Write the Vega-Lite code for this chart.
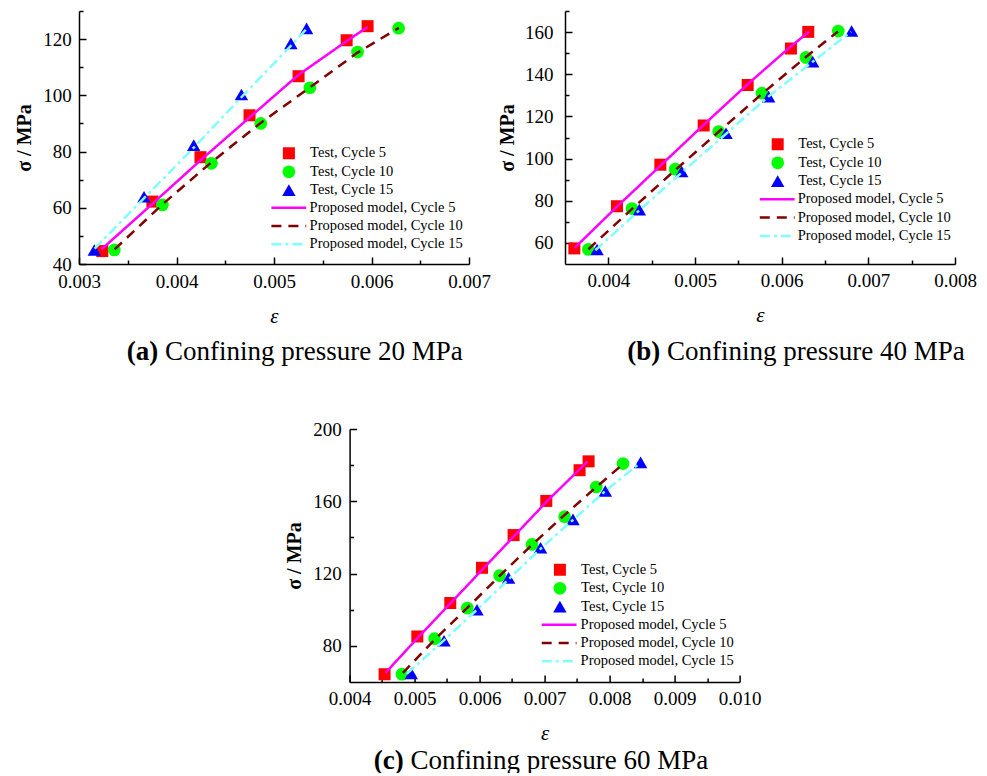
{
  "$schema": "https://vega.github.io/schema/vega-lite/v6.json",
  "padding": {"left": 14, "top": 10, "right": 0, "bottom": 0},
  "background": "white",
  "config": {
    "view": {"stroke": null},
    "font": "Liberation Serif",
    "axis": {"domainColor": "#000", "domainWidth": 1.5, "tickColor": "#000", "tickWidth": 1.5, "labelColor": "#000", "labelFont": "Liberation Serif", "labelFontSize": 19, "titleFont": "Liberation Serif", "titleColor": "#000", "grid": false, "labelFlush": false, "labelOverlap": false},
    "legend": {"labelFont": "Liberation Serif", "labelFontSize": 14.5, "labelColor": "#000", "padding": 0, "title": null, "rowPadding": 3.3}
  },
  "datasets": {
    "a_test": [
      {"strain": 0.003239, "stress": 44.6, "series": "Test, Cycle 5"},
      {"strain": 0.003753, "stress": 62.2, "series": "Test, Cycle 5"},
      {"strain": 0.004246, "stress": 78.0, "series": "Test, Cycle 5"},
      {"strain": 0.004749, "stress": 92.9, "series": "Test, Cycle 5"},
      {"strain": 0.005252, "stress": 106.8, "series": "Test, Cycle 5"},
      {"strain": 0.005745, "stress": 119.6, "series": "Test, Cycle 5"},
      {"strain": 0.005960, "stress": 124.6, "series": "Test, Cycle 5"},
      {"strain": 0.003362, "stress": 45.0, "series": "Test, Cycle 10"},
      {"strain": 0.003855, "stress": 61.0, "series": "Test, Cycle 10"},
      {"strain": 0.004358, "stress": 75.8, "series": "Test, Cycle 10"},
      {"strain": 0.004864, "stress": 90.0, "series": "Test, Cycle 10"},
      {"strain": 0.005368, "stress": 102.7, "series": "Test, Cycle 10"},
      {"strain": 0.005857, "stress": 115.4, "series": "Test, Cycle 10"},
      {"strain": 0.006278, "stress": 123.9, "series": "Test, Cycle 10"},
      {"strain": 0.003157, "stress": 45.0, "series": "Test, Cycle 15"},
      {"strain": 0.003667, "stress": 63.9, "series": "Test, Cycle 15"},
      {"strain": 0.004177, "stress": 82.3, "series": "Test, Cycle 15"},
      {"strain": 0.004666, "stress": 100.3, "series": "Test, Cycle 15"},
      {"strain": 0.005173, "stress": 118.5, "series": "Test, Cycle 15"},
      {"strain": 0.005334, "stress": 123.8, "series": "Test, Cycle 15"}
    ],
    "a_model": [
      {"strain": 0.00323, "stress": 45.2, "series": "Proposed model, Cycle 5"},
      {"strain": 0.003759, "stress": 61.6, "series": "Proposed model, Cycle 5"},
      {"strain": 0.004256, "stress": 77.2, "series": "Proposed model, Cycle 5"},
      {"strain": 0.004752, "stress": 92.2, "series": "Proposed model, Cycle 5"},
      {"strain": 0.005248, "stress": 107.2, "series": "Proposed model, Cycle 5"},
      {"strain": 0.005745, "stress": 119.3, "series": "Proposed model, Cycle 5"},
      {"strain": 0.00596, "stress": 124.3, "series": "Proposed model, Cycle 5"},
      {"strain": 0.003365, "stress": 45.2, "series": "Proposed model, Cycle 10"},
      {"strain": 0.003855, "stress": 61.2, "series": "Proposed model, Cycle 10"},
      {"strain": 0.004358, "stress": 76.2, "series": "Proposed model, Cycle 10"},
      {"strain": 0.004864, "stress": 90.2, "series": "Proposed model, Cycle 10"},
      {"strain": 0.005368, "stress": 102.8, "series": "Proposed model, Cycle 10"},
      {"strain": 0.005857, "stress": 115.2, "series": "Proposed model, Cycle 10"},
      {"strain": 0.00628, "stress": 124.0, "series": "Proposed model, Cycle 10"},
      {"strain": 0.00316, "stress": 45.5, "series": "Proposed model, Cycle 15"},
      {"strain": 0.00367, "stress": 63.5, "series": "Proposed model, Cycle 15"},
      {"strain": 0.00418, "stress": 81.5, "series": "Proposed model, Cycle 15"},
      {"strain": 0.00467, "stress": 99.5, "series": "Proposed model, Cycle 15"},
      {"strain": 0.00517, "stress": 117.5, "series": "Proposed model, Cycle 15"},
      {"strain": 0.00533, "stress": 123.5, "series": "Proposed model, Cycle 15"}
    ],
    "b_test": [
      {"strain": 0.003608, "stress": 57.4, "series": "Test, Cycle 5"},
      {"strain": 0.004100, "stress": 77.4, "series": "Test, Cycle 5"},
      {"strain": 0.004600, "stress": 97.1, "series": "Test, Cycle 5"},
      {"strain": 0.005100, "stress": 115.7, "series": "Test, Cycle 5"},
      {"strain": 0.005608, "stress": 134.9, "series": "Test, Cycle 5"},
      {"strain": 0.006107, "stress": 152.2, "series": "Test, Cycle 5"},
      {"strain": 0.006307, "stress": 160.1, "series": "Test, Cycle 5"},
      {"strain": 0.003769, "stress": 56.9, "series": "Test, Cycle 10"},
      {"strain": 0.004273, "stress": 76.3, "series": "Test, Cycle 10"},
      {"strain": 0.004773, "stress": 95.0, "series": "Test, Cycle 10"},
      {"strain": 0.005273, "stress": 112.8, "series": "Test, Cycle 10"},
      {"strain": 0.005773, "stress": 131.0, "series": "Test, Cycle 10"},
      {"strain": 0.006280, "stress": 148.0, "series": "Test, Cycle 10"},
      {"strain": 0.006653, "stress": 160.5, "series": "Test, Cycle 10"},
      {"strain": 0.003870, "stress": 56.9, "series": "Test, Cycle 15"},
      {"strain": 0.004358, "stress": 75.8, "series": "Test, Cycle 15"},
      {"strain": 0.004847, "stress": 93.9, "series": "Test, Cycle 15"},
      {"strain": 0.005358, "stress": 112.0, "series": "Test, Cycle 15"},
      {"strain": 0.005850, "stress": 129.4, "series": "Test, Cycle 15"},
      {"strain": 0.006358, "stress": 146.0, "series": "Test, Cycle 15"},
      {"strain": 0.006807, "stress": 160.5, "series": "Test, Cycle 15"}
    ],
    "b_model": [
      {"strain": 0.00361, "stress": 57.6, "series": "Proposed model, Cycle 5"},
      {"strain": 0.0041, "stress": 77.2, "series": "Proposed model, Cycle 5"},
      {"strain": 0.0046, "stress": 96.6, "series": "Proposed model, Cycle 5"},
      {"strain": 0.0051, "stress": 116.0, "series": "Proposed model, Cycle 5"},
      {"strain": 0.0056, "stress": 135.0, "series": "Proposed model, Cycle 5"},
      {"strain": 0.0061, "stress": 153.0, "series": "Proposed model, Cycle 5"},
      {"strain": 0.00632, "stress": 160.3, "series": "Proposed model, Cycle 5"},
      {"strain": 0.00377, "stress": 57.0, "series": "Proposed model, Cycle 10"},
      {"strain": 0.00427, "stress": 76.0, "series": "Proposed model, Cycle 10"},
      {"strain": 0.00477, "stress": 94.5, "series": "Proposed model, Cycle 10"},
      {"strain": 0.00527, "stress": 112.6, "series": "Proposed model, Cycle 10"},
      {"strain": 0.00577, "stress": 130.6, "series": "Proposed model, Cycle 10"},
      {"strain": 0.00628, "stress": 148.2, "series": "Proposed model, Cycle 10"},
      {"strain": 0.00665, "stress": 160.3, "series": "Proposed model, Cycle 10"},
      {"strain": 0.00385, "stress": 56.5, "series": "Proposed model, Cycle 15"},
      {"strain": 0.00436, "stress": 75.5, "series": "Proposed model, Cycle 15"},
      {"strain": 0.00485, "stress": 93.5, "series": "Proposed model, Cycle 15"},
      {"strain": 0.00536, "stress": 111.8, "series": "Proposed model, Cycle 15"},
      {"strain": 0.00585, "stress": 129.5, "series": "Proposed model, Cycle 15"},
      {"strain": 0.00636, "stress": 146.0, "series": "Proposed model, Cycle 15"},
      {"strain": 0.0068, "stress": 160.2, "series": "Proposed model, Cycle 15"}
    ],
    "c_test": [
      {"strain": 0.004538, "stress": 64.3, "series": "Test, Cycle 5"},
      {"strain": 0.005042, "stress": 85.2, "series": "Test, Cycle 5"},
      {"strain": 0.005549, "stress": 103.7, "series": "Test, Cycle 5"},
      {"strain": 0.006037, "stress": 123.2, "series": "Test, Cycle 5"},
      {"strain": 0.006523, "stress": 141.3, "series": "Test, Cycle 5"},
      {"strain": 0.007026, "stress": 160.2, "series": "Test, Cycle 5"},
      {"strain": 0.007538, "stress": 177.2, "series": "Test, Cycle 5"},
      {"strain": 0.007677, "stress": 182.1, "series": "Test, Cycle 5"},
      {"strain": 0.004806, "stress": 64.3, "series": "Test, Cycle 10"},
      {"strain": 0.005308, "stress": 84.0, "series": "Test, Cycle 10"},
      {"strain": 0.005811, "stress": 100.9, "series": "Test, Cycle 10"},
      {"strain": 0.006308, "stress": 118.9, "series": "Test, Cycle 10"},
      {"strain": 0.006806, "stress": 136.1, "series": "Test, Cycle 10"},
      {"strain": 0.007308, "stress": 151.5, "series": "Test, Cycle 10"},
      {"strain": 0.007795, "stress": 167.9, "series": "Test, Cycle 10"},
      {"strain": 0.008206, "stress": 180.9, "series": "Test, Cycle 10"},
      {"strain": 0.004949, "stress": 64.8, "series": "Test, Cycle 15"},
      {"strain": 0.005452, "stress": 82.8, "series": "Test, Cycle 15"},
      {"strain": 0.005960, "stress": 100.0, "series": "Test, Cycle 15"},
      {"strain": 0.006446, "stress": 117.6, "series": "Test, Cycle 15"},
      {"strain": 0.006938, "stress": 134.3, "series": "Test, Cycle 15"},
      {"strain": 0.007437, "stress": 150.0, "series": "Test, Cycle 15"},
      {"strain": 0.007934, "stress": 165.7, "series": "Test, Cycle 15"},
      {"strain": 0.008477, "stress": 181.5, "series": "Test, Cycle 15"}
    ],
    "c_model": [
      {"strain": 0.00455, "stress": 65.0, "series": "Proposed model, Cycle 5"},
      {"strain": 0.00505, "stress": 84.5, "series": "Proposed model, Cycle 5"},
      {"strain": 0.00555, "stress": 103.5, "series": "Proposed model, Cycle 5"},
      {"strain": 0.00605, "stress": 122.5, "series": "Proposed model, Cycle 5"},
      {"strain": 0.00655, "stress": 141.5, "series": "Proposed model, Cycle 5"},
      {"strain": 0.00705, "stress": 160.5, "series": "Proposed model, Cycle 5"},
      {"strain": 0.00766, "stress": 182.0, "series": "Proposed model, Cycle 5"},
      {"strain": 0.00482, "stress": 65.0, "series": "Proposed model, Cycle 10"},
      {"strain": 0.00531, "stress": 83.5, "series": "Proposed model, Cycle 10"},
      {"strain": 0.00581, "stress": 101.0, "series": "Proposed model, Cycle 10"},
      {"strain": 0.00631, "stress": 118.8, "series": "Proposed model, Cycle 10"},
      {"strain": 0.00681, "stress": 136.0, "series": "Proposed model, Cycle 10"},
      {"strain": 0.00731, "stress": 152.5, "series": "Proposed model, Cycle 10"},
      {"strain": 0.0078, "stress": 168.0, "series": "Proposed model, Cycle 10"},
      {"strain": 0.00822, "stress": 181.0, "series": "Proposed model, Cycle 10"},
      {"strain": 0.00488, "stress": 64.5, "series": "Proposed model, Cycle 15"},
      {"strain": 0.00545, "stress": 83.0, "series": "Proposed model, Cycle 15"},
      {"strain": 0.00596, "stress": 100.0, "series": "Proposed model, Cycle 15"},
      {"strain": 0.00645, "stress": 117.0, "series": "Proposed model, Cycle 15"},
      {"strain": 0.00694, "stress": 133.8, "series": "Proposed model, Cycle 15"},
      {"strain": 0.00744, "stress": 149.8, "series": "Proposed model, Cycle 15"},
      {"strain": 0.00793, "stress": 165.5, "series": "Proposed model, Cycle 15"},
      {"strain": 0.00846, "stress": 181.0, "series": "Proposed model, Cycle 15"}
    ]
  },
  "bounds": "flush",
  "spacing": 418,
  "vconcat": [
    {
      "bounds": "flush",
      "spacing": 96,
      "hconcat": [
        {
          "width": 390, "height": 253,
          "layer": [
            {
              "data": {"name": "a_test"},
              "mark": {"type": "point", "filled": true, "opacity": 1},
              "encoding": {
                "x": {"field": "strain", "type": "quantitative", "scale": {"domain": [0.003, 0.007], "nice": false, "zero": false},
                  "axis": {"orient": "bottom", "values": [0.003, 0.004, 0.005, 0.006, 0.007], "format": ".3f", "tickSize": -7, "labelPadding": 15, "title": "ε", "titleFontStyle": "italic", "titleFontWeight": "normal", "titleFontSize": 21, "titlePadding": 14}},
                "y": {"field": "stress", "type": "quantitative", "scale": {"domain": [40, 130], "nice": false, "zero": false},
                  "axis": {"orient": "left", "values": [40, 60, 80, 100, 120], "tickSize": -7, "labelPadding": 14.7, "title": "σ / MPa", "titleFontWeight": "bold", "titleFontSize": 20, "titlePadding": 8}},
                "color": {"field": "series", "type": "nominal", "scale": {"domain": ["Test, Cycle 5", "Test, Cycle 10", "Test, Cycle 15"], "range": ["#ff0000", "#00ff00", "#0000ff"]},
                  "legend": {"orient": "none", "legendX": 202.4, "legendY": 135, "labelOffset": 13.7}},
                "shape": {"field": "series", "type": "nominal", "scale": {"domain": ["Test, Cycle 5", "Test, Cycle 10", "Test, Cycle 15"], "range": ["square", "circle", "triangle-up"]}},
                "size": {"field": "series", "type": "nominal", "scale": {"domain": ["Test, Cycle 5", "Test, Cycle 10", "Test, Cycle 15"], "range": [144, 180, 225]}}
              }
            },
            {
              "data": {"name": "a_model"},
              "mark": {"type": "line", "strokeWidth": 2.5},
              "encoding": {
                "x": {"field": "strain", "type": "quantitative", "scale": {"domain": [0.003, 0.007], "nice": false, "zero": false},
                  "axis": {"orient": "bottom", "values": [0.0035, 0.0045, 0.0055, 0.0065], "tickSize": -4, "labels": false, "domain": false,
                    "title": "Confining pressure 20 MPa", "titleX": 85.5, "titleY": 95, "titleAlign": "left", "titleBaseline": "alphabetic", "titleAngle": 0, "titleFontSize": 27, "titleFontWeight": "normal"}},
                "y": {"field": "stress", "type": "quantitative", "scale": {"domain": [40, 130], "nice": false, "zero": false},
                  "axis": {"orient": "left", "values": [50, 70, 90, 110, 130], "tickSize": -4, "labels": false, "domain": false,
                    "title": "(a)", "titleX": 47.3, "titleY": 348, "titleAlign": "left", "titleBaseline": "alphabetic", "titleAngle": 0, "titleFontSize": 27, "titleFontWeight": "bold"}},
                "color": {"field": "series", "type": "nominal", "scale": {"domain": ["Proposed model, Cycle 5", "Proposed model, Cycle 10", "Proposed model, Cycle 15"], "range": ["#ff00ff", "#800000", "#80ffff"]},
                  "legend": {"orient": "none", "legendX": 202.3, "legendY": 189.2, "symbolType": "M-2.9,0H2.9", "symbolSize": 144, "symbolStrokeWidth": 2.5, "labelOffset": 13.3}},
                "strokeDash": {"field": "series", "type": "nominal", "scale": {"domain": ["Proposed model, Cycle 5", "Proposed model, Cycle 10", "Proposed model, Cycle 15"], "range": [[1, 0], [10, 7], [10, 4, 3, 4]]}}
              }
            }
          ],
          "resolve": {"scale": {"color": "independent", "shape": "independent", "size": "independent", "strokeDash": "independent"}, "axis": {"x": "independent", "y": "independent"}}
        },
        {
          "width": 390, "height": 253,
          "layer": [
            {
              "data": {"name": "b_test"},
              "mark": {"type": "point", "filled": true, "opacity": 1},
              "encoding": {
                "x": {"field": "strain", "type": "quantitative", "scale": {"domain": [0.0035, 0.008], "nice": false, "zero": false},
                  "axis": {"orient": "bottom", "values": [0.004, 0.005, 0.006, 0.007, 0.008], "format": ".3f", "tickSize": -7, "labelPadding": 14, "title": "ε", "titleFontStyle": "italic", "titleFontWeight": "normal", "titleFontSize": 21, "titlePadding": 14}},
                "y": {"field": "stress", "type": "quantitative", "scale": {"domain": [50, 170], "nice": false, "zero": false},
                  "axis": {"orient": "left", "values": [60, 80, 100, 120, 140, 160], "tickSize": -7, "labelPadding": 19, "title": "σ / MPa", "titleFontWeight": "bold", "titleFontSize": 20, "titlePadding": 7}},
                "color": {"field": "series", "type": "nominal", "scale": {"domain": ["Test, Cycle 5", "Test, Cycle 10", "Test, Cycle 15"], "range": ["#ff0000", "#00ff00", "#0000ff"]},
                  "legend": {"orient": "none", "legendX": 205.2, "legendY": 126, "labelOffset": 13.1}},
                "shape": {"field": "series", "type": "nominal", "scale": {"domain": ["Test, Cycle 5", "Test, Cycle 10", "Test, Cycle 15"], "range": ["square", "circle", "triangle-up"]}},
                "size": {"field": "series", "type": "nominal", "scale": {"domain": ["Test, Cycle 5", "Test, Cycle 10", "Test, Cycle 15"], "range": [144, 180, 225]}}
              }
            },
            {
              "data": {"name": "b_model"},
              "mark": {"type": "line", "strokeWidth": 2.5},
              "encoding": {
                "x": {"field": "strain", "type": "quantitative", "scale": {"domain": [0.0035, 0.008], "nice": false, "zero": false},
                  "axis": {"orient": "bottom", "values": [0.0045, 0.0055, 0.0065, 0.0075], "tickSize": -4, "labels": false, "domain": false,
                    "title": "Confining pressure 40 MPa", "titleX": 101.5, "titleY": 95, "titleAlign": "left", "titleBaseline": "alphabetic", "titleAngle": 0, "titleFontSize": 27, "titleFontWeight": "normal"}},
                "y": {"field": "stress", "type": "quantitative", "scale": {"domain": [50, 170], "nice": false, "zero": false},
                  "axis": {"orient": "left", "values": [70, 90, 110, 130, 150, 170], "tickSize": -4, "labels": false, "domain": false,
                    "title": "(b)", "titleX": 61.7, "titleY": 348, "titleAlign": "left", "titleBaseline": "alphabetic", "titleAngle": 0, "titleFontSize": 27, "titleFontWeight": "bold"}},
                "color": {"field": "series", "type": "nominal", "scale": {"domain": ["Proposed model, Cycle 5", "Proposed model, Cycle 10", "Proposed model, Cycle 15"], "range": ["#ff00ff", "#800000", "#80ffff"]},
                  "legend": {"orient": "none", "legendX": 204.7, "legendY": 180.8, "symbolType": "M-2.9,0H2.9", "symbolSize": 144, "symbolStrokeWidth": 2.5, "labelOffset": 13}},
                "strokeDash": {"field": "series", "type": "nominal", "scale": {"domain": ["Proposed model, Cycle 5", "Proposed model, Cycle 10", "Proposed model, Cycle 15"], "range": [[1, 0], [10, 7], [10, 4, 3, 4]]}}
              }
            }
          ],
          "resolve": {"scale": {"color": "independent", "shape": "independent", "size": "independent", "strokeDash": "independent"}, "axis": {"x": "independent", "y": "independent"}}
        }
      ]
    },
    {
      "bounds": "flush",
      "spacing": 10.6,
      "hconcat": [
        {"width": 260, "height": 253, "data": {"values": []}, "mark": {"type": "point", "opacity": 0}, "encoding": {}},
        {
          "width": 390, "height": 253,
          "layer": [
            {
              "data": {"name": "c_test"},
              "mark": {"type": "point", "filled": true, "opacity": 1},
              "encoding": {
                "x": {"field": "strain", "type": "quantitative", "scale": {"domain": [0.004, 0.010], "nice": false, "zero": false},
                  "axis": {"orient": "bottom", "values": [0.004, 0.005, 0.006, 0.007, 0.008, 0.009, 0.010], "format": ".3f", "tickSize": -7, "labelPadding": 14.5, "title": "ε", "titleFontStyle": "italic", "titleFontWeight": "normal", "titleFontSize": 21, "titlePadding": 14}},
                "y": {"field": "stress", "type": "quantitative", "scale": {"domain": [60, 200], "nice": false, "zero": false},
                  "axis": {"orient": "left", "values": [80, 120, 160, 200], "tickSize": -7, "labelPadding": 15.3, "title": "σ / MPa", "titleFontWeight": "bold", "titleFontSize": 20, "titlePadding": 8}},
                "color": {"field": "series", "type": "nominal", "scale": {"domain": ["Test, Cycle 5", "Test, Cycle 10", "Test, Cycle 15"], "range": ["#ff0000", "#00ff00", "#0000ff"]},
                  "legend": {"orient": "none", "legendX": 202.8, "legendY": 133.5, "labelOffset": 13.7}},
                "shape": {"field": "series", "type": "nominal", "scale": {"domain": ["Test, Cycle 5", "Test, Cycle 10", "Test, Cycle 15"], "range": ["square", "circle", "triangle-up"]}},
                "size": {"field": "series", "type": "nominal", "scale": {"domain": ["Test, Cycle 5", "Test, Cycle 10", "Test, Cycle 15"], "range": [144, 180, 225]}}
              }
            },
            {
              "data": {"name": "c_model"},
              "mark": {"type": "line", "strokeWidth": 2.5},
              "encoding": {
                "x": {"field": "strain", "type": "quantitative", "scale": {"domain": [0.004, 0.010], "nice": false, "zero": false},
                  "axis": {"orient": "bottom", "values": [0.0045, 0.0055, 0.0065, 0.0075, 0.0085, 0.0095], "tickSize": -4, "labels": false, "domain": false,
                    "title": "Confining pressure 60 MPa", "titleX": 60.4, "titleY": 86, "titleAlign": "left", "titleBaseline": "alphabetic", "titleAngle": 0, "titleFontSize": 27, "titleFontWeight": "normal"}},
                "y": {"field": "stress", "type": "quantitative", "scale": {"domain": [60, 200], "nice": false, "zero": false},
                  "axis": {"orient": "left", "values": [100, 140, 180], "tickSize": -4, "labels": false, "domain": false,
                    "title": "(c)", "titleX": 23.7, "titleY": 339, "titleAlign": "left", "titleBaseline": "alphabetic", "titleAngle": 0, "titleFontSize": 27, "titleFontWeight": "bold"}},
                "color": {"field": "series", "type": "nominal", "scale": {"domain": ["Proposed model, Cycle 5", "Proposed model, Cycle 10", "Proposed model, Cycle 15"], "range": ["#ff00ff", "#800000", "#80ffff"]},
                  "legend": {"orient": "none", "legendX": 202, "legendY": 188.2, "symbolType": "M-2.9,0H2.9", "symbolSize": 144, "symbolStrokeWidth": 2.5, "labelOffset": 14}},
                "strokeDash": {"field": "series", "type": "nominal", "scale": {"domain": ["Proposed model, Cycle 5", "Proposed model, Cycle 10", "Proposed model, Cycle 15"], "range": [[1, 0], [10, 7], [10, 4, 3, 4]]}}
              }
            }
          ],
          "resolve": {"scale": {"color": "independent", "shape": "independent", "size": "independent", "strokeDash": "independent"}, "axis": {"x": "independent", "y": "independent"}}
        }
      ]
    }
  ]
}
